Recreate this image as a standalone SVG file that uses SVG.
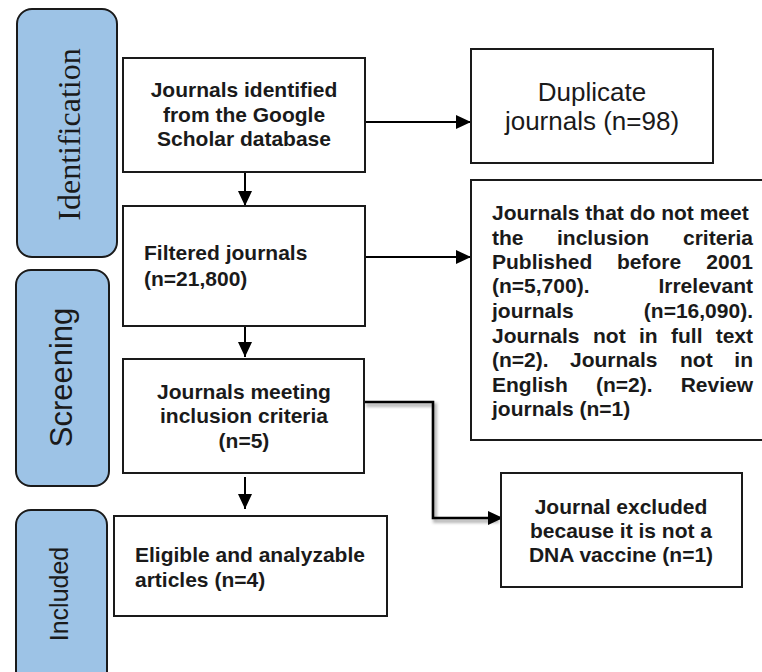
<svg xmlns="http://www.w3.org/2000/svg" width="762" height="672" viewBox="0 0 762 672">
<style>
.pill{fill:#9DC3E6;stroke:#1a1a1a;stroke-width:2}
.box{fill:#fff;stroke:#1a1a1a;stroke-width:2}
.b{font-family:"Liberation Sans",Arial,sans-serif;font-weight:bold;font-size:21px;fill:#1a1a1a}
.r{font-family:"Liberation Sans",Arial,sans-serif;font-size:26px;fill:#1a1a1a}
.c{text-anchor:middle}
.e{text-anchor:end}
.conn{fill:none;stroke:#000;stroke-width:2}
</style>
<defs>
<marker id="ah" markerUnits="userSpaceOnUse" markerWidth="15" markerHeight="14" refX="15" refY="7" orient="auto">
<path d="M0,0 L15,7 L0,14 z" fill="#000"/>
</marker>
<filter id="sh" x="-20%" y="-20%" width="140%" height="140%">
<feGaussianBlur stdDeviation="1.6"/>
</filter>
</defs>
<rect width="762" height="672" fill="#fff"/>

<g id="stage-identification">
<rect class="pill" x="17" y="9" width="100" height="248" rx="15"/>
<text transform="translate(80,134.5) rotate(-90)" text-anchor="middle" font-family="'Liberation Serif','Times New Roman',serif" font-size="32" fill="#1a1a1a">Identification</text>
</g>
<g id="stage-screening">
<rect class="pill" x="16" y="270" width="93" height="216" rx="15"/>
<text transform="translate(72,377.5) rotate(-90)" text-anchor="middle" font-family="'Liberation Sans',Arial,sans-serif" font-size="31" fill="#1a1a1a">Screening</text>
</g>
<g id="stage-included">
<rect class="pill" x="16" y="510" width="91" height="180" rx="15"/>
<text transform="translate(68,594) rotate(-90)" text-anchor="middle" font-family="'Liberation Sans',Arial,sans-serif" font-size="25" fill="#1a1a1a">Included</text>
</g>

<g id="connectors">
<line class="conn" x1="245" y1="172" x2="245" y2="206" marker-end="url(#ah)"/>
<line class="conn" x1="365" y1="122" x2="471" y2="122" marker-end="url(#ah)"/>
<line class="conn" x1="365" y1="257" x2="471" y2="257" marker-end="url(#ah)"/>
<line class="conn" x1="245" y1="323" x2="245" y2="357" marker-end="url(#ah)"/>
<line class="conn" x1="245" y1="477" x2="245" y2="509" marker-end="url(#ah)"/>
<path d="M364,402 H433 V518 H497" fill="none" stroke="#888" stroke-width="4" opacity="0.6" transform="translate(2,3)" filter="url(#sh)"/>
<path d="M364,402 H433 V518 H503" fill="none" stroke="#000" stroke-width="2.6" marker-end="url(#ah)"/>
</g>

<g id="n-identified">
<rect class="box" x="123" y="58" width="242" height="114"/>
<text class="b c" x="244" y="97">Journals identified</text>
<text class="b c" x="244" y="122">from the Google</text>
<text class="b c" x="244" y="146">Scholar database</text>
</g>
<g id="n-filtered">
<rect class="box" x="123" y="206" width="242" height="120"/>
<text class="b" x="144" y="260">Filtered journals</text>
<text class="b" x="144" y="286">(n=21,800)</text>
</g>
<g id="n-meeting">
<rect class="box" x="123" y="359" width="241" height="114"/>
<text class="b c" x="244" y="399">Journals meeting</text>
<text class="b c" x="244" y="423">inclusion criteria</text>
<text class="b c" x="244" y="448">(n=5)</text>
</g>
<g id="n-eligible">
<rect class="box" x="114" y="516" width="273" height="100"/>
<text class="b" x="135" y="562">Eligible and analyzable</text>
<text class="b" x="135" y="587">articles (n=4)</text>
</g>
<g id="n-duplicate">
<rect class="box" x="471" y="49" width="242" height="114"/>
<text class="r c" x="592" y="101">Duplicate</text>
<text class="r c" x="592" y="130">journals (n=98)</text>
</g>
<g id="n-notmeet">
<rect class="box" x="471" y="180" width="300" height="260"/>
<text class="b" x="492" y="220">Journals that do not meet</text>
<text class="b" y="245"><tspan x="492">the</tspan><tspan x="557">inclusion</tspan><tspan x="753" text-anchor="end">criteria</tspan></text>
<text class="b" y="269"><tspan x="492">Published</tspan><tspan x="617">before</tspan><tspan x="753" text-anchor="end">2001</tspan></text>
<text class="b" y="293"><tspan x="492">(n=5,700).</tspan><tspan x="753" text-anchor="end">Irrelevant</tspan></text>
<text class="b" y="318"><tspan x="492">journals</tspan><tspan x="753" text-anchor="end">(n=16,090).</tspan></text>
<text class="b" y="343"><tspan x="492">Journals</tspan><tspan x="593">not</tspan><tspan x="639">in</tspan><tspan x="671">full</tspan><tspan x="753" text-anchor="end">text</tspan></text>
<text class="b" y="367"><tspan x="492">(n=2).</tspan><tspan x="570">Journals</tspan><tspan x="680">not</tspan><tspan x="753" text-anchor="end">in</tspan></text>
<text class="b" y="392"><tspan x="492">English</tspan><tspan x="596">(n=2).</tspan><tspan x="753" text-anchor="end">Review</tspan></text>
<text class="b" x="492" y="416">journals (n=1)</text>
</g>
<g id="n-dna">
<rect class="box" x="501" y="473" width="241" height="114"/>
<text class="b c" x="621" y="514">Journal excluded</text>
<text class="b c" x="621" y="538">because it is not a</text>
<text class="b c" x="621" y="562">DNA vaccine (n=1)</text>
</g>
</svg>
